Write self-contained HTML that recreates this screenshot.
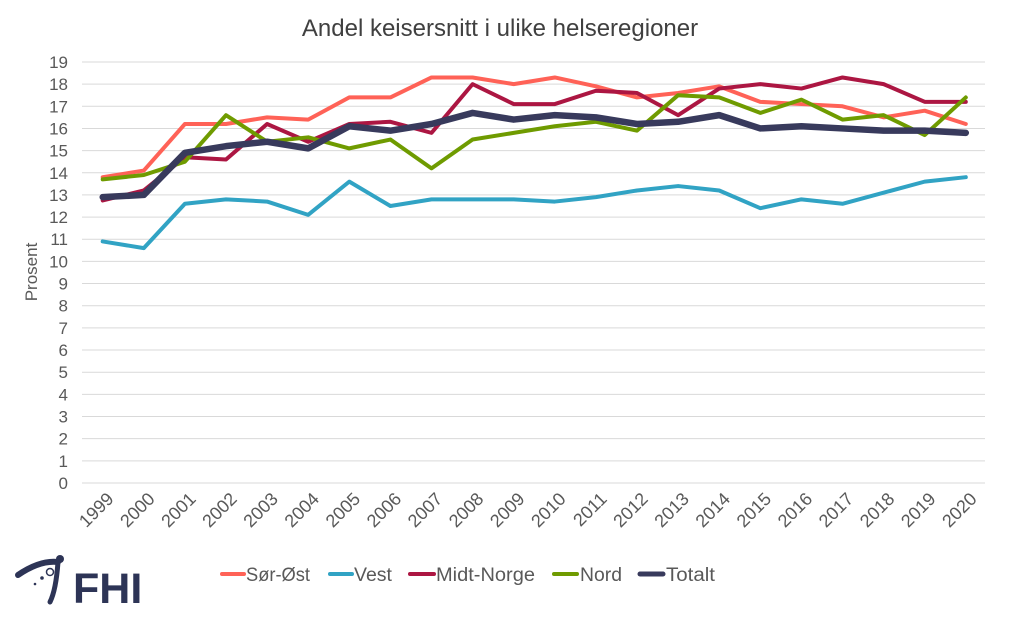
<!DOCTYPE html>
<html><head><meta charset="utf-8"><style>
body{margin:0;background:#fff;}
svg text{font-family:"Liberation Sans",sans-serif;fill:#595959;}
</style></head><body>
<svg id="c" width="1018" height="622" xmlns="http://www.w3.org/2000/svg">
<text x="500" y="36" text-anchor="middle" font-size="24" style="fill:#404040">Andel keisersnitt i ulike helseregioner</text>
<text transform="translate(37,272) rotate(-90)" text-anchor="middle" font-size="17">Prosent</text>
<g id="grid"></g>
<g id="lines"></g>
<g id="xl"></g>
<g>
<path d="M18 575 Q40 560 58 562" stroke="#2d3456" stroke-width="6" fill="none" stroke-linecap="round"/>
<path d="M58 562 Q56 590 50 602" stroke="#2d3456" stroke-width="5" fill="none" stroke-linecap="round"/>
<circle cx="60" cy="559" r="4" fill="#2d3456"/>
<circle cx="50" cy="572" r="3.5" fill="#fff" stroke="#2d3456" stroke-width="1.5"/>
<circle cx="42" cy="578" r="1.8" fill="#2d3456"/>
<circle cx="35" cy="584" r="1.3" fill="#2d3456"/>
<text x="73" y="603" font-size="43" font-weight="bold" style="fill:#2d3456">FHI</text>
</g>
<g font-size="19" stroke-linecap="round">
<line x1="222" y1="574" x2="244" y2="574" stroke="#ff6257" stroke-width="4"/><text x="246" y="581" textLength="64" lengthAdjust="spacingAndGlyphs">Sør-Øst</text>
<line x1="330" y1="574" x2="352" y2="574" stroke="#31a3c4" stroke-width="4"/><text x="354" y="581" textLength="38" lengthAdjust="spacingAndGlyphs">Vest</text>
<line x1="410" y1="574" x2="434" y2="574" stroke="#ac1642" stroke-width="4"/><text x="436" y="581" textLength="99" lengthAdjust="spacingAndGlyphs">Midt-Norge</text>
<line x1="554" y1="574" x2="577" y2="574" stroke="#6f9b00" stroke-width="4"/><text x="580" y="581" textLength="42" lengthAdjust="spacingAndGlyphs">Nord</text>
<line x1="640" y1="574" x2="663" y2="574" stroke="#383a5c" stroke-width="5"/><text x="666" y="581" textLength="49" lengthAdjust="spacingAndGlyphs">Totalt</text>
</g>
</svg>
<script>
var NS="http://www.w3.org/2000/svg";
function el(t,a,p){var e=document.createElementNS(NS,t);for(var k in a)e.setAttribute(k,a[k]);document.getElementById(p).appendChild(e);return e;}
function Y(v){return 483-v*22.16;}function X(i){return 102.7+i*41.1;}
for(var v=0;v<=19;v++){el("line",{x1:82,x2:985,y1:Y(v),y2:Y(v),stroke:"#d9d9d9","stroke-width":1},"grid");
var t=el("text",{x:68,y:Y(v)+6,"text-anchor":"end","font-size":"17"},"grid");t.textContent=v;}
for(var i=0;i<22;i++){var t=el("text",{transform:"translate("+(X(i)+12)+",500) rotate(-45)","text-anchor":"end","font-size":"18"},"xl");t.textContent=1999+i;}
var S=[
["#31a3c4",4,[10.9,10.6,12.6,12.8,12.7,12.1,13.6,12.5,12.8,12.8,12.8,12.7,12.9,13.2,13.4,13.2,12.4,12.8,12.6,13.1,13.6,13.8]],
["#ff6257",4,[13.8,14.1,16.2,16.2,16.5,16.4,17.4,17.4,18.3,18.3,18.0,18.3,17.9,17.4,17.6,17.9,17.2,17.1,17.0,16.5,16.8,16.2]],
["#ac1642",4,[12.75,13.2,14.7,14.6,16.2,15.4,16.2,16.3,15.8,18.0,17.1,17.1,17.7,17.6,16.6,17.8,18.0,17.8,18.3,18.0,17.2,17.2]],
["#6f9b00",4,[13.7,13.9,14.5,16.6,15.4,15.6,15.1,15.5,14.2,15.5,15.8,16.1,16.3,15.9,17.5,17.4,16.7,17.3,16.4,16.6,15.7,17.4]],
["#383a5c",6.5,[12.9,13.0,14.9,15.2,15.4,15.1,16.1,15.9,16.2,16.7,16.4,16.6,16.5,16.2,16.3,16.6,16.0,16.1,16.0,15.9,15.9,15.8]]];
S.forEach(function(s){el("polyline",{points:s[2].map(function(v,i){return X(i)+","+Y(v);}).join(" "),fill:"none",stroke:s[0],"stroke-width":s[1],"stroke-linejoin":"round","stroke-linecap":"round"},"lines");});
</script>
</body></html>
